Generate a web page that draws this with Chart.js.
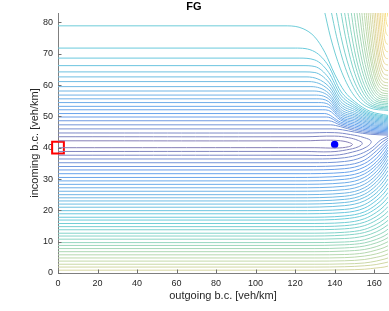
<!DOCTYPE html>
<html>
<head>
<meta charset="utf-8">
<script src="https://cdn.jsdelivr.net/npm/chart.js@4.4.1/dist/chart.umd.min.js"></script>
<style>
  html, body { margin: 0; padding: 0; background: #fff; }
  #wrap { width: 389px; height: 311px; }
</style>
</head>
<body>
<div id="wrap"><canvas id="fgChart" width="389" height="311"></canvas></div>
<script>
const xTickValues = [0, 20, 40, 60, 80, 100, 120, 140, 160];
const yTickValues = [0, 10, 20, 30, 40, 50, 60, 70, 80];

// closed loops around the minimum (levels 1-3)
const innerLoops = [
  [[0, 42.2], [125, 42.2], [136, 42.4], [143, 42.2], [147.5, 41.6], [149, 41.0], [147, 40.3], [141, 39.9], [130, 40.0], [0, 40.0]],
  [[0, 43.5], [125, 43.5], [140, 43.7], [147, 43.2], [152, 42.3], [154, 41.4], [152, 40.3], [146, 39.3], [138, 38.7], [125, 38.8], [0, 38.8]],
  [[0, 44.7], [125, 44.7], [140, 44.8], [148, 44.2], [155, 43.2], [158.5, 42.0], [156, 40.2], [149, 38.6], [140, 37.6], [125, 37.6], [0, 37.6]],
];

// upper branches, levels 4-22: left intercept + bend toward the right edge
const upperLevels = [46.0, 47.3, 48.6, 49.8, 50.9, 52.1, 53.2, 54.4, 55.6, 56.8, 58.1, 59.5, 61.1, 62.6, 64.2, 66.2, 68.6, 71.8, 78.9];
const upperTails = [
  [[139, 46.0], [144, 45.7], [150, 45.0], [158, 44.3], [167, 44.0]],
  [[138, 47.3], [143, 46.7], [150, 45.5], [158, 44.7], [167, 44.35]],
  [[137, 48.6], [143, 47.2], [150, 46.0], [158, 45.1], [167, 44.7]],
  [[136, 49.8], [143, 47.7], [150, 46.5], [158, 45.5], [167, 45.05]],
  [[135, 50.9], [143, 48.2], [150, 47.0], [158, 45.9], [167, 45.4]],
  [[134, 52.1], [137, 51.9], [143, 48.8], [150, 47.5], [158, 46.3], [167, 45.75]],
  [[133, 53.2], [137, 52.9], [143, 49.3], [150, 48.0], [158, 46.7], [167, 46.1]],
  [[132, 54.4], [137, 53.8], [143, 49.8], [150, 48.5], [158, 47.1], [167, 46.45]],
  [[131, 55.6], [137, 54.7], [143, 50.4], [150, 49.0], [158, 47.5], [167, 46.8]],
  [[130, 56.8], [137, 55.6], [143, 51.0], [150, 49.5], [158, 47.9], [167, 47.15]],
  [[129, 58.1], [137, 56.5], [143, 51.6], [150, 50.0], [158, 48.3], [167, 47.5]],
  [[128, 59.5], [137, 57.4], [143, 52.3], [150, 50.5], [158, 48.7], [167, 47.85]],
  [[127, 61.1], [137, 58.5], [143, 53.1], [150, 51.0], [158, 49.1], [167, 48.2]],
  [[126, 62.6], [137, 59.6], [143, 53.9], [150, 51.6], [158, 49.5], [167, 48.55]],
  [[125, 64.2], [130, 64.0], [137, 60.9], [143, 54.8], [150, 52.2], [158, 49.9], [167, 48.9]],
  [[124, 66.2], [130, 65.9], [137, 62.3], [143, 55.8], [150, 52.8], [158, 50.3], [167, 49.25]],
  [[122, 68.6], [130, 68.0], [137, 64.0], [143, 56.9], [150, 53.4], [158, 50.7], [167, 49.6]],
  [[120, 71.8], [130, 70.6], [137, 66.0], [143, 58.1], [150, 54.1], [158, 51.1], [167, 49.95]],
  [[116, 78.9], [124, 78.0], [130, 75.3], [135, 70.5], [140, 63.5], [145, 58.0], [150, 54.8], [158, 51.6], [167, 50.3]],
];

// lower branches, levels 4-38
const lowerLevels = [36.4, 35.2, 34.0, 32.9, 31.7, 30.5, 29.4, 28.3, 27.2, 26.1, 25.0, 24.0, 23.0, 22.0, 21.0, 19.9, 18.9,
  17.8, 16.9, 15.8, 14.8, 13.8, 12.7, 11.8, 10.8, 9.7, 8.8, 7.8, 6.8, 5.8, 4.8, 3.8, 2.8, 1.9, 0.9];
const lowerTails = [
  [[130, 36.4], [145, 36.8], [153, 38.0], [159, 40.0], [163, 42.3], [167, 43.6]],
  [[128, 35.2], [145, 35.6], [154, 37.0], [160, 39.5], [164, 41.8], [167, 43.0]],
  [[126, 34.0], [145, 34.4], [155, 36.0], [161, 38.9], [165, 41.3], [167, 42.4]],
  [[124, 32.9], [145, 33.3], [155, 34.9], [161, 37.7], [165, 40.4], [167, 41.7]],
  [[122, 31.7], [145, 32.1], [155, 33.8], [161, 36.5], [165, 39.5], [167, 41.0]],
  [[120, 30.5], [145, 31.0], [155, 32.6], [161, 35.4], [165, 38.3], [167, 40.2]],
  [[120, 29.4], [145, 29.9], [155, 31.6], [161, 34.4], [165, 37.3], [167, 39.3]],
  [[120, 28.3], [145, 28.8], [155, 30.5], [161, 33.4], [165, 36.4], [167, 38.4]],
  [[120, 27.2], [145, 27.7], [155, 29.4], [161, 32.3], [165, 35.4], [167, 37.4]],
  [[120, 26.1], [145, 26.6], [155, 28.3], [161, 31.2], [165, 34.3], [167, 36.3]],
  [[120, 25.0], [145, 25.5], [155, 27.2], [161, 30.1], [165, 33.2], [167, 35.2]],
  [[120, 24.0], [145, 24.5], [155, 26.2], [161, 29.0], [165, 32.0], [167, 34.0]],
  [[120, 23.0], [145, 23.5], [155, 25.1], [161, 27.9], [165, 30.8], [167, 32.7]],
  [[120, 22.0], [145, 22.5], [155, 24.1], [161, 26.7], [165, 29.5], [167, 31.4]],
  [[120, 21.0], [145, 21.5], [155, 23.0], [161, 25.5], [165, 28.2], [167, 30.0]],
  [[120, 19.9], [145, 20.3], [155, 21.8], [161, 24.3], [165, 26.9], [167, 28.6]],
  [[120, 18.9], [145, 19.3], [155, 20.7], [161, 23.1], [165, 25.5], [167, 27.2]],
  [[125, 17.8], [145, 18.2], [155, 19.5], [161, 21.8], [165, 24.1], [167, 25.7]],
  [[125, 16.9], [145, 17.3], [155, 18.5], [161, 20.6], [165, 22.7], [167, 24.2]],
  [[125, 15.8], [145, 16.1], [155, 17.3], [161, 19.3], [165, 21.3], [167, 22.7]],
  [[125, 14.8], [145, 15.1], [155, 16.2], [161, 18.0], [165, 19.9], [167, 21.2]],
  [[125, 13.8], [145, 14.1], [155, 15.1], [161, 16.8], [165, 18.5], [167, 19.7]],
  [[125, 12.7], [145, 13.0], [155, 13.9], [161, 15.5], [165, 17.1], [167, 18.2]],
  [[125, 11.8], [145, 12.1], [155, 12.9], [161, 14.3], [165, 15.8], [167, 16.8]],
  [[125, 10.8], [145, 11.0], [155, 11.8], [161, 13.1], [165, 14.5], [167, 15.4]],
  [[125, 9.7], [145, 9.9], [155, 10.6], [161, 11.9], [165, 13.1], [167, 14.0]],
  [[125, 8.8], [145, 9.0], [155, 9.6], [161, 10.7], [165, 11.8], [167, 12.6]],
  [[130, 7.8], [145, 8.0], [155, 8.6], [161, 9.6], [165, 10.6], [167, 11.3]],
  [[130, 6.8], [145, 7.0], [155, 7.5], [161, 8.4], [165, 9.4], [167, 10.0]],
  [[130, 5.8], [145, 5.9], [155, 6.4], [161, 7.3], [165, 8.1], [167, 8.7]],
  [[130, 4.8], [145, 4.9], [155, 5.4], [161, 6.1], [165, 6.9], [167, 7.4]],
  [[130, 3.8], [145, 3.9], [155, 4.3], [161, 5.0], [165, 5.6], [167, 6.1]],
  [[130, 2.8], [145, 2.9], [155, 3.2], [161, 3.8], [165, 4.4], [167, 4.8]],
  [[130, 1.9], [145, 2.0], [155, 2.3], [161, 2.7], [165, 3.2], [167, 3.5]],
  [[130, 0.9], [145, 1.0], [155, 1.2], [161, 1.6], [165, 1.9], [167, 2.2]],
];

// lines coming in from the top edge, levels 23-47
const topLines = [
  [[134.7, 84], [137.9, 75.3], [142.8, 65.4], [149.2, 57.2], [157.3, 52.8], [167, 51.9]],
  [[138.1, 84], [141.0, 75.4], [145.3, 65.7], [151.1, 57.6], [158.3, 53.2], [167, 52.3]],
  [[140.6, 84], [143.2, 75.5], [147.2, 65.9], [152.5, 57.9], [159.1, 53.5], [167, 52.7]],
  [[143.0, 84], [145.4, 75.6], [149.0, 66.1], [153.8, 58.2], [159.8, 53.9], [167, 53.1]],
  [[144.8, 84], [147.0, 75.8], [150.4, 66.4], [154.8, 58.6], [160.3, 54.4], [167, 53.6]],
  [[146.5, 84], [148.6, 75.9], [151.6, 66.7], [155.7, 59.1], [160.9, 54.9], [167, 54.1]],
  [[148.2, 84], [150.1, 76.0], [152.9, 67.0], [156.7, 59.5], [161.4, 55.4], [167, 54.6]],
  [[149.7, 84], [151.4, 76.2], [154.0, 67.4], [157.5, 60.0], [161.8, 56.0], [167, 55.2]],
  [[151.1, 84], [152.7, 76.4], [155.1, 67.7], [158.3, 60.5], [162.2, 56.6], [167, 55.8]],
  [[152.4, 84], [153.9, 76.5], [156.1, 68.1], [159.0, 61.1], [162.6, 57.2], [167, 56.5]],
  [[153.6, 84], [154.9, 76.7], [157.0, 68.5], [159.6, 61.6], [163.0, 57.9], [167, 57.2]],
  [[154.8, 84], [156.0, 77.0], [157.9, 69.0], [160.3, 62.3], [163.3, 58.7], [167, 58.0]],
  [[155.8, 84], [156.9, 77.2], [158.6, 69.4], [160.8, 63.0], [163.6, 59.5], [167, 58.8]],
  [[156.8, 84], [157.8, 77.4], [159.4, 70.0], [161.4, 63.7], [163.9, 60.4], [167, 59.7]],
  [[157.8, 84], [158.7, 77.7], [160.1, 70.5], [161.9, 64.6], [164.2, 61.3], [167, 60.7]],
  [[158.8, 84], [159.6, 78.0], [160.9, 71.2], [162.5, 65.5], [164.5, 62.4], [167, 61.8]],
  [[159.7, 84], [160.4, 78.3], [161.5, 71.9], [163.0, 66.6], [164.8, 63.7], [167, 63.1]],
  [[160.5, 84], [161.2, 78.7], [162.1, 72.8], [163.4, 67.8], [165.1, 65.1], [167, 64.6]],
  [[161.4, 84], [162.0, 79.2], [162.8, 73.8], [163.9, 69.3], [165.3, 66.9], [167, 66.4]],
  [[162.2, 84], [162.7, 79.8], [163.4, 75.0], [164.4, 71.0], [165.6, 68.8], [167, 68.4]],
  [[163.0, 84], [163.4, 80.4], [164.0, 76.3], [164.8, 72.8], [165.8, 71.0], [167, 70.6]],
  [[163.9, 84], [164.2, 81.0], [164.7, 77.6], [165.3, 74.8], [166.1, 73.3], [167, 73.0]],
  [[164.8, 84], [165.4, 79.2], [165.8, 77.1], [167, 75.7]],
  [[165.6, 84], [165.95, 80.9], [167, 78.6]],
  [[166.4, 84], [167, 81.8]],
];

const minimumPoint = [{ x: 140, y: 41 }];
const startPoint = [{ x: 0, y: 40 }];
const strayPoint = [{ x: -27, y: -10.2 }];

const parula = ['#352a87', '#0363e1', '#1485d4', '#06a7c6', '#38b99e', '#92bf73', '#d9ba56', '#fcce2e', '#f9fb0e'];

function hexToRgb(h) {
  return [1, 3, 5].map((i) => parseInt(h.slice(i, i + 2), 16));
}

// parula colour for a contour level, washed out like the thin MATLAB lines
function levelColor(k) {
  const t = Math.min(1, (k - 1) / 53) * (parula.length - 1);
  const i = Math.min(parula.length - 2, Math.floor(t));
  const f = t - i;
  const a = hexToRgb(parula[i]);
  const b = hexToRgb(parula[i + 1]);
  const c = a.map((v, j) => Math.round(v + (b[j] - v) * f)).map((v) => Math.round(v + (255 - v) * 0.4));
  return `rgb(${c[0]},${c[1]},${c[2]})`;
}

const toXY = (pts) => pts.map(([x, y]) => ({ x, y }));

function contourSet(points, k, smooth) {
  return {
    data: toXY(points),
    borderColor: levelColor(k),
    borderWidth: 1,
    pointRadius: 0,
    fill: false,
    cubicInterpolationMode: smooth ? 'monotone' : 'default',
    tension: smooth ? 0 : 0.4,
  };
}

const datasets = [];
lowerLevels.forEach((y0, i) => datasets.push(contourSet([[0, y0], ...lowerTails[i]], i + 4, true)));
upperLevels.forEach((y0, i) => datasets.push(contourSet([[0, y0], ...upperTails[i]], i + 4, true)));
innerLoops.forEach((pts, i) => datasets.push(contourSet(pts, i + 1, false)));
topLines.forEach((pts, i) => datasets.push(contourSet(pts, i + 23, true)));

datasets.push({
  data: minimumPoint,
  showLine: false,
  pointRadius: 3.7,
  pointBackgroundColor: '#0000ff',
  pointBorderColor: '#0000ff',
  pointBorderWidth: 0,
});
datasets.push({
  data: startPoint,
  showLine: false,
  pointStyle: 'rect',
  pointRadius: 8.3,
  pointBackgroundColor: 'rgba(0,0,0,0)',
  pointBorderColor: '#ff0000',
  pointBorderWidth: 2,
  clip: false,
});
datasets.push({
  data: strayPoint,
  showLine: false,
  pointRadius: 1.4,
  pointBackgroundColor: '#8a8a8a',
  pointBorderWidth: 0,
  clip: false,
});

const innerTicks = {
  id: 'innerTicks',
  afterDraw(chart) {
    const { ctx, chartArea, scales } = chart;
    ctx.save();
    ctx.strokeStyle = '#6f6f6f';
    ctx.lineWidth = 1;
    ctx.beginPath();
    xTickValues.forEach((v) => {
      const px = Math.round(scales.x.getPixelForValue(v)) + 0.5;
      ctx.moveTo(px, chartArea.bottom);
      ctx.lineTo(px, chartArea.bottom - 3.5);
    });
    yTickValues.forEach((v) => {
      const py = Math.round(scales.y.getPixelForValue(v)) + 0.5;
      ctx.moveTo(chartArea.left, py);
      ctx.lineTo(chartArea.left + 3.5, py);
    });
    ctx.stroke();
    ctx.restore();
  },
};

const font = 'Liberation Sans, Arial, Helvetica, sans-serif';

new Chart(document.getElementById('fgChart'), {
  type: 'line',
  data: { datasets },
  plugins: [innerTicks],
  options: {
    responsive: false,
    animation: false,
    devicePixelRatio: 1,
    layout: { autoPadding: false, padding: { left: 0, right: 1, top: 0, bottom: 0 } },
    plugins: {
      legend: { display: false },
      tooltip: { enabled: false },
      title: {
        display: true,
        text: 'FG',
        color: '#000',
        font: { family: font, size: 11, weight: 'bold', lineHeight: 1.0 },
        padding: { top: 1, bottom: 1 },
      },
    },
    scales: {
      x: {
        type: 'linear',
        min: 0,
        max: 167,
        afterBuildTicks: (scale) => { scale.ticks = xTickValues.map((v) => ({ value: v })); },
        afterFit: (scale) => {
          scale.height = 38;
          scale.paddingLeft = 0;
          scale.paddingRight = 0;
        },
        grid: { display: false, drawTicks: false },
        border: { display: true, color: '#7f7f7f', width: 1 },
        ticks: { color: '#262626', font: { family: font, size: 9 }, padding: 5, maxRotation: 0 },
        title: {
          display: true,
          text: 'outgoing b.c. [veh/km]',
          color: '#262626',
          font: { family: font, size: 11, lineHeight: 1.2 },
          padding: { top: 0, bottom: 8 },
        },
      },
      y: {
        type: 'linear',
        min: 0,
        max: 83,
        afterBuildTicks: (scale) => { scale.ticks = yTickValues.map((v) => ({ value: v })); },
        afterFit: (scale) => {
          scale.width = 58;
          scale.paddingTop = 0;
          scale.paddingBottom = 0;
        },
        grid: { display: false, drawTicks: false },
        border: { display: true, color: '#7f7f7f', width: 1 },
        ticks: { color: '#262626', font: { family: font, size: 9 }, padding: 5 },
        title: {
          display: true,
          text: 'incoming b.c. [veh/km]',
          color: '#262626',
          font: { family: font, size: 11, lineHeight: 1.2 },
          padding: { top: 28, bottom: 0 },
        },
      },
    },
  },
});
</script>
</body>
</html>
